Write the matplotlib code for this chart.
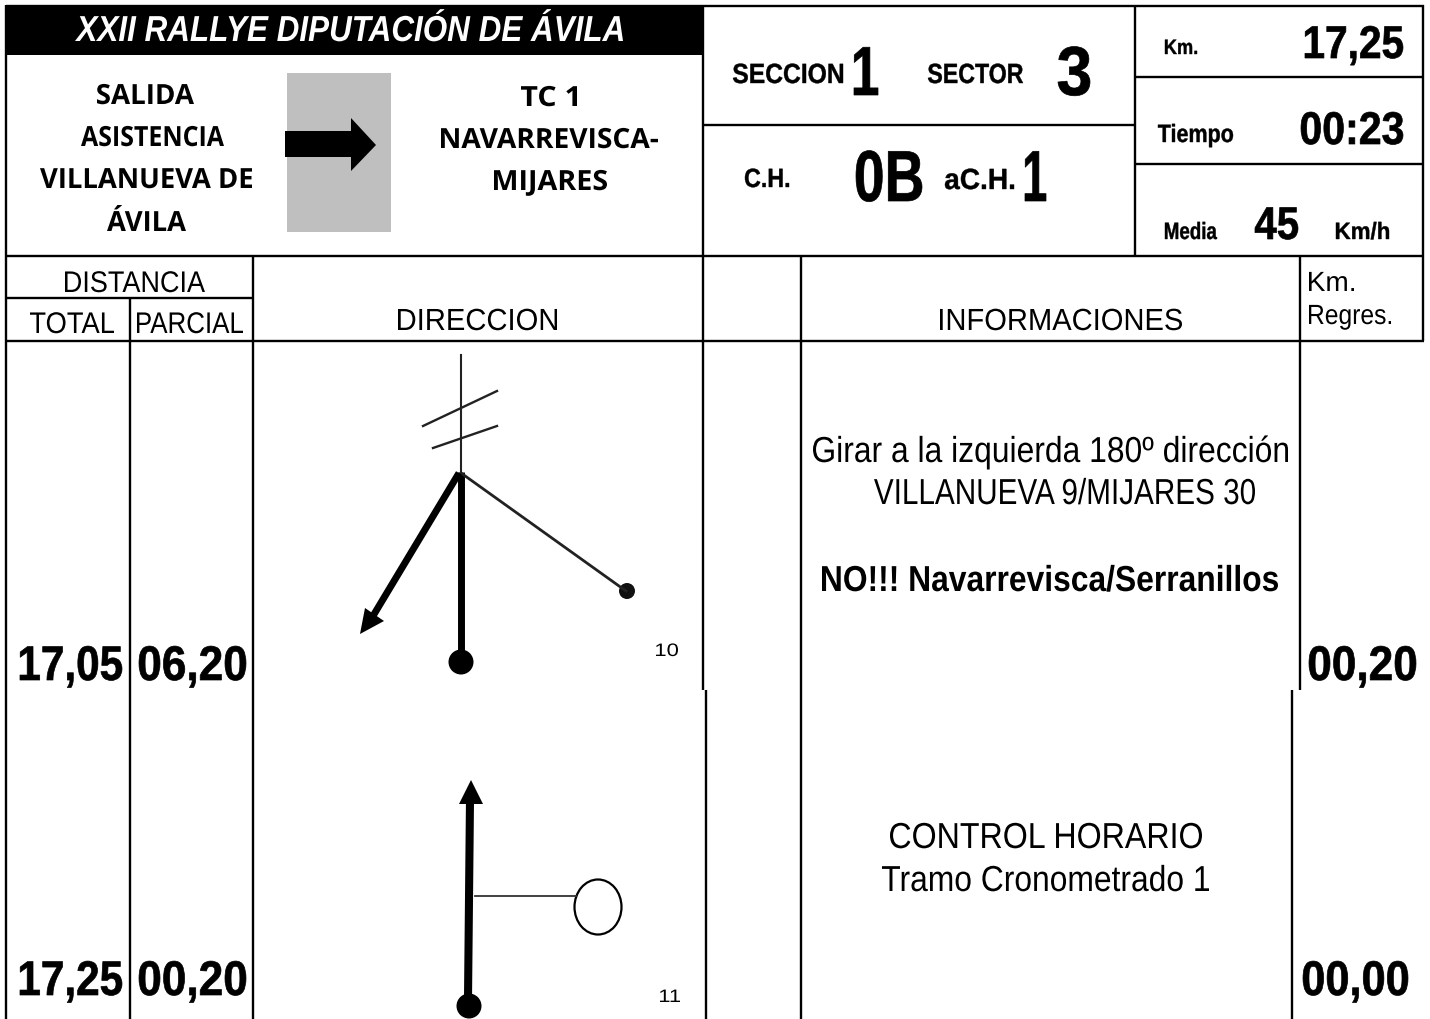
import matplotlib
matplotlib.use("Agg")
import matplotlib.pyplot as plt
from matplotlib.patches import Rectangle, Ellipse, Polygon
from matplotlib.patheffects import AbstractPathEffect
from matplotlib.transforms import Affine2D

ARIAL = ['Liberation Sans', 'DejaVu Sans']
CALIBRI = ['Open Sans', 'DejaVu Sans']

title = "XXII RALLYE DIPUTACIÓN DE ÁVILA"
salida_lines = ["SALIDA", "ASISTENCIA", "VILLANUEVA DE", "ÁVILA"]
destino_lines = ["TC 1", "NAVARREVISCA-", "MIJARES"]
seccion = "1"
sector = "3"
ch_from = "0B"
ch_to = "1"
km_total = "17,25"
tiempo = "00:23"
media = "45"

totals = ["17,05", "17,25"]
parciales = ["06,20", "00,20"]
regres = ["00,20", "00,00"]
numeros = ["10", "11"]
info_1 = ["Girar a la izquierda 180º dirección", "VILLANUEVA 9/MIJARES 30"]
info_1_bold = "NO!!! Navarrevisca/Serranillos"
info_2 = ["CONTROL HORARIO", "Tramo Cronometrado 1"]

fig = plt.figure(figsize=(14.3, 10.2), dpi=100)
ax = fig.add_axes([0, 0, 1, 1])
ax.set_xlim(0, 1430)
ax.set_ylim(1020, 0)
ax.axis('off')


class FitWidth(AbstractPathEffect):
    # the originals are condensed faces, so squeeze the glyphs into x0..x1
    def __init__(self, x0, x1, stroke=0):
        super().__init__()
        self.x0 = x0
        self.x1 = x1
        self.stroke = stroke

    def draw_path(self, renderer, gc, tpath, affine, rgbFace=None):
        box = tpath.get_extents(affine)
        fit = Affine2D().translate(-box.x0, 0).scale((self.x1 - self.x0) / box.width, 1).translate(self.x0, 0)
        gc0 = renderer.new_gc()
        gc0.copy_properties(gc)
        gc0.set_linewidth(self.stroke)
        gc0.set_foreground(rgbFace)
        renderer.draw_path(gc0, tpath, affine + fit, rgbFace)
        gc0.restore()


def hline(y, x0, x1, lw=1.7):
    ax.plot([x0, x1], [y, y], color='black', lw=lw, solid_capstyle='butt')


def vline(x, y0, y1, lw=1.7):
    ax.plot([x, x], [y0, y1], color='black', lw=lw, solid_capstyle='butt')


def label(x0, x1, y, s, size, fam=ARIAL, weight='normal', style='normal', color='black', stroke=0, shift=0):
    t = ax.text((x0 + x1) / 2 + shift, y, s, fontsize=size, family=fam, weight=weight, ha='center',
                va='baseline', style=style, color=color)
    t.set_path_effects([FitWidth(x0, x1, stroke)])


# frame
ax.add_patch(Rectangle((6, 7), 697, 49, color='black', lw=0))
hline(7, 6, 1424)
hline(257, 6, 1424)
hline(342, 6, 1424)
hline(299, 6, 253)
hline(126, 703, 1135)
hline(78, 1135, 1424)
hline(165, 1135, 1424)
vline(6, 6, 1020)
vline(1423, 6, 342)
vline(703, 6, 691)
vline(706, 691, 1020)
vline(1135, 7, 257)
vline(253, 257, 1020)
vline(130, 299, 1020)
vline(801, 257, 1020)
vline(1300, 257, 691)
vline(1292, 691, 1020)

# header left
label(75, 623, 42, title, 26, weight='bold', style='italic', color='white')
label(97, 194, 105, salida_lines[0], 20, fam=CALIBRI, weight='bold')
label(81, 224, 147, salida_lines[1], 20, fam=CALIBRI, weight='bold')
label(40, 252, 189, salida_lines[2], 20, fam=CALIBRI, weight='bold')
label(107, 186, 232, salida_lines[3], 20, fam=CALIBRI, weight='bold')
label(521, 577, 107, destino_lines[0], 20, fam=CALIBRI, weight='bold')
label(441, 658, 149, destino_lines[1], 20, fam=CALIBRI, weight='bold')
label(494, 607, 191, destino_lines[2], 20, fam=CALIBRI, weight='bold')
ax.add_patch(Rectangle((287, 74), 104, 159, color='#bfbfbf', lw=0))
ax.add_patch(Polygon([(285, 132), (351, 132), (351, 119), (376, 146), (351, 172), (351, 158), (285, 158)],
                     color='black', lw=0))

# header middle
label(733, 843, 84, "SECCION", 20, weight='bold', stroke=0.3, shift=-5)
label(854, 878, 96, seccion, 50, weight='bold', stroke=0.5, shift=2)
label(928, 1023, 84, "SECTOR", 20, weight='bold', stroke=0.3)
label(1058, 1090, 96, sector, 50, weight='bold', stroke=0.5)
label(745, 789, 188, "C.H.", 19, weight='bold', stroke=0.3)
label(856, 922, 202, ch_from, 52, weight='bold', stroke=0.5)
label(945, 1014, 190, "aC.H.", 21, weight='bold', stroke=0.3)
label(1025, 1046, 202, ch_to, 52, weight='bold', stroke=0.5)

# header right
label(1165, 1197, 55, "Km.", 15, weight='bold', stroke=0.3)
label(1305, 1403, 59, km_total, 33, weight='bold', stroke=0.5)
label(1158, 1233, 143, "Tiempo", 18, weight='bold', stroke=0.3)
label(1301, 1403, 145, tiempo, 33, weight='bold', stroke=0.5)
label(1165, 1217, 240, "Media", 17, weight='bold', stroke=0.3)
label(1255, 1298, 240, media, 33, weight='bold', stroke=0.5)
label(1336, 1389, 240, "Km/h", 17, weight='bold', stroke=0.3)

# column heads
label(65, 205, 293, "DISTANCIA", 21.5)
label(30, 114, 334, "TOTAL", 21.5)
label(137, 243, 334, "PARCIAL", 21.5)
label(398, 557, 331, "DIRECCION", 22)
label(940, 1182, 331, "INFORMACIONES", 22)
label(1309, 1354, 292, "Km.", 20)
label(1309, 1391, 325, "Regres.", 20)

# rows
label(20, 122, 681, totals[0], 35, weight='bold', stroke=0.5)
label(139, 246, 681, parciales[0], 35, weight='bold', stroke=0.5)
label(1309, 1416, 681, regres[0], 35, weight='bold', stroke=0.5)
label(20, 122, 996, totals[1], 35, weight='bold', stroke=0.5)
label(139, 246, 996, parciales[1], 35, weight='bold', stroke=0.5)
label(1303, 1408, 996, regres[1], 35, weight='bold', stroke=0.5)
label(656, 678, 657, numeros[0], 13)
label(660, 680, 1003, numeros[1], 13)

label(813, 1288, 463, info_1[0], 26)
label(874, 1255, 505, info_1[1], 26)
label(822, 1278, 592, info_1_bold, 26, weight='bold')
label(890, 1202, 849, info_2[0], 26)
label(882, 1209, 892, info_2[1], 26)

# note 10 sketch
ax.plot([461, 461], [356, 475], color='#222222', lw=1.5)
ax.plot([423, 497], [427, 392], color='#222222', lw=1.7)
ax.plot([433, 497], [449, 427], color='#222222', lw=1.7)
ax.plot([461, 461], [473, 662], color='black', lw=5, solid_capstyle='butt')
ax.plot([461, 626], [474, 592], color='#222222', lw=2)
ax.plot([459, 373], [474, 617], color='black', lw=5, solid_capstyle='butt')
ax.add_patch(Polygon([(360, 635), (365, 609), (384, 622)], color='black', lw=0))
ax.add_patch(Ellipse((461, 663), 25, 25, color='black', lw=0))
ax.add_patch(Ellipse((627, 592), 16, 16, color='#111111', lw=0))

# note 11 sketch
ax.plot([470, 468], [800, 1000], color='black', lw=5.8, solid_capstyle='butt')
ax.add_patch(Polygon([(471, 781), (459, 805), (483, 805)], color='black', lw=0))
ax.add_patch(Ellipse((469, 1007), 25, 25, color='black', lw=0))
ax.plot([475, 576], [897, 897], color='#333333', lw=1.3)
ax.add_patch(Ellipse((598, 908), 47, 55, fc='white', ec='black', lw=1.6))

fig.savefig('out.png', dpi=100)
